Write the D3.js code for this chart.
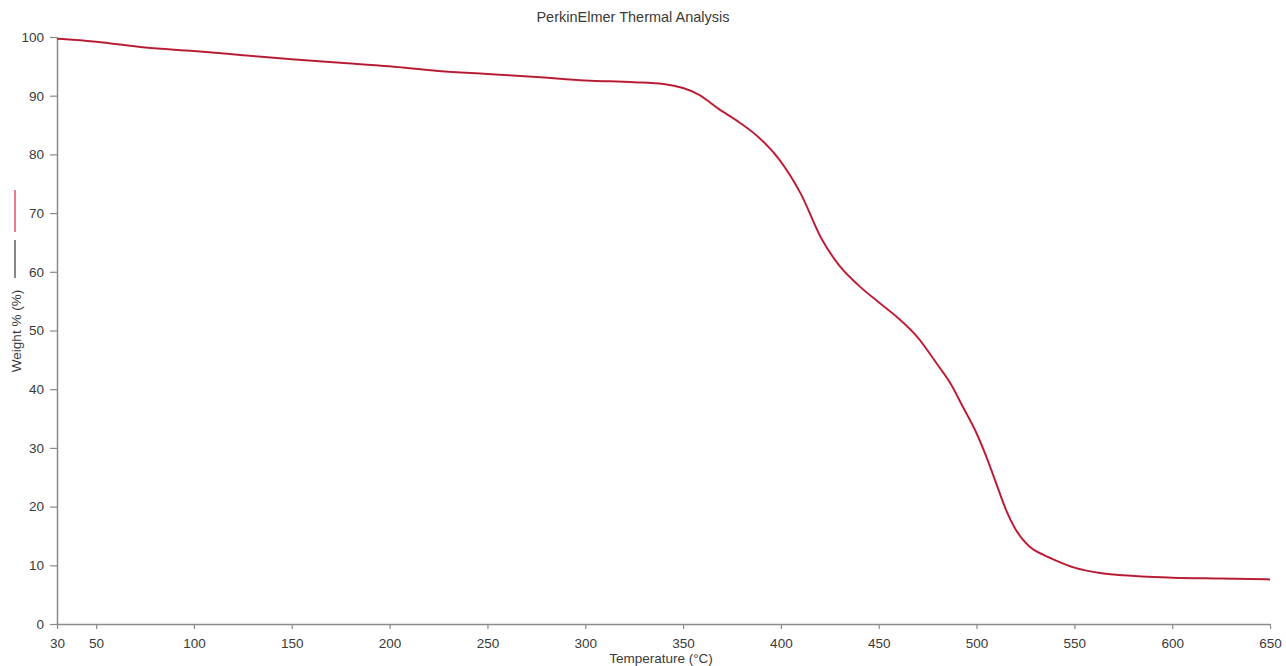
<!DOCTYPE html>
<html>
<head>
<meta charset="utf-8">
<script src="https://cdn.jsdelivr.net/npm/d3@7"></script>
<style>
  html, body { margin: 0; padding: 0; background: #fff; }
  svg { display: block; font-family: "Liberation Sans", Arial, sans-serif; }
</style>
</head>
<body>
<svg id="chart" width="1286" height="666"></svg>
<script>
// TGA run: sample temperature (°C) and remaining weight (%)
const temperature = [30, 40, 50, 75, 100, 125, 150, 175, 200, 225, 250, 275, 300, 325, 340, 350,
  358, 368, 379, 389, 399, 410, 421, 430, 440, 450, 460, 470, 480, 487, 493, 500, 505, 510,
  515, 520, 527, 534, 540, 550, 563, 575, 600, 625, 650];
const weight = [99.7, 99.5, 99.2, 98.2, 97.6, 96.9, 96.2, 95.6, 95.0, 94.2, 93.7, 93.2, 92.6, 92.3, 92.0, 91.3,
  90.2, 87.8, 85.4, 82.8, 79.2, 73.4, 65.5, 61.0, 57.6, 54.8, 52.1, 48.8, 44.2, 40.8, 37.0, 32.5, 28.5, 24.0,
  19.5, 16.1, 13.2, 11.8, 10.9, 9.6, 8.7, 8.3, 7.9, 7.75, 7.6];

const xTicks = [30, 50, 100, 150, 200, 250, 300, 350, 400, 450, 500, 550, 600, 650];
const yTicks = [0, 10, 20, 30, 40, 50, 60, 70, 80, 90, 100];

const title = "PerkinElmer Thermal Analysis";
const xTitle = "Temperature (°C)";
const yTitle = "Weight % (%)";

const W = 1286, H = 666;
const margin = { top: 37, right: 16, bottom: 42, left: 57 };

const svg = d3.select("#chart");

const x = d3.scaleLinear().domain([30, 650]).range([margin.left, W - margin.right]);
const y = d3.scaleLinear().domain([0, 100]).range([H - margin.bottom, margin.top]);

const axisColor = "#8a8a8a";
const textColor = "#3a3a3a";

// y axis
const gy = svg.append("g")
  .attr("transform", `translate(${margin.left},0)`)
  .call(d3.axisLeft(y).tickValues(yTicks).tickSize(7).tickPadding(6).tickSizeOuter(0));
// x axis
const gx = svg.append("g")
  .attr("transform", `translate(0,${H - margin.bottom})`)
  .call(d3.axisBottom(x).tickValues(xTicks).tickSize(5).tickPadding(9).tickSizeOuter(0));

[gx, gy].forEach(g => {
  g.select(".domain").attr("stroke", axisColor).attr("stroke-width", 1.5);
  g.selectAll(".tick line").attr("stroke", axisColor).attr("stroke-width", 1.2);
  g.selectAll(".tick text")
    .attr("fill", textColor)
    .style("font-size", "13.5px")
    .style("font-family", "'Liberation Sans', Arial, sans-serif");
});

// title
svg.append("text")
  .attr("x", 633).attr("y", 22)
  .attr("text-anchor", "middle")
  .attr("fill", textColor)
  .style("font-size", "14.5px")
  .text(title);

// x axis title
svg.append("text")
  .attr("x", 661).attr("y", 663)
  .attr("text-anchor", "middle")
  .attr("fill", textColor)
  .style("font-size", "13.5px")
  .text(xTitle);

// y axis title with series key strokes
svg.append("text")
  .attr("transform", "translate(21,331) rotate(-90)")
  .attr("text-anchor", "middle")
  .attr("fill", textColor)
  .style("font-size", "13.5px")
  .text(yTitle);

svg.append("line")
  .attr("x1", 15).attr("x2", 15).attr("y1", 190).attr("y2", 232)
  .attr("stroke", "#e0506a").attr("stroke-width", 1.5);
svg.append("line")
  .attr("x1", 15).attr("x2", 15).attr("y1", 240).attr("y2", 278)
  .attr("stroke", "#444").attr("stroke-width", 1.3);

// weight curve: red trace with the dark trace over it
const pts = temperature.map((t, i) => [t, weight[i]]);
const line = d3.line()
  .x(d => x(d[0]))
  .y(d => y(d[1]))
  .curve(d3.curveMonotoneX);

svg.append("path")
  .datum(pts)
  .attr("d", line)
  .attr("fill", "none")
  .attr("stroke", "#dc2440")
  .attr("stroke-width", 2);

svg.append("path")
  .datum(pts)
  .attr("d", line)
  .attr("fill", "none")
  .attr("stroke", "#3a1a20")
  .attr("stroke-opacity", 0.5)
  .attr("stroke-width", 0.8);
</script>
</body>
</html>
